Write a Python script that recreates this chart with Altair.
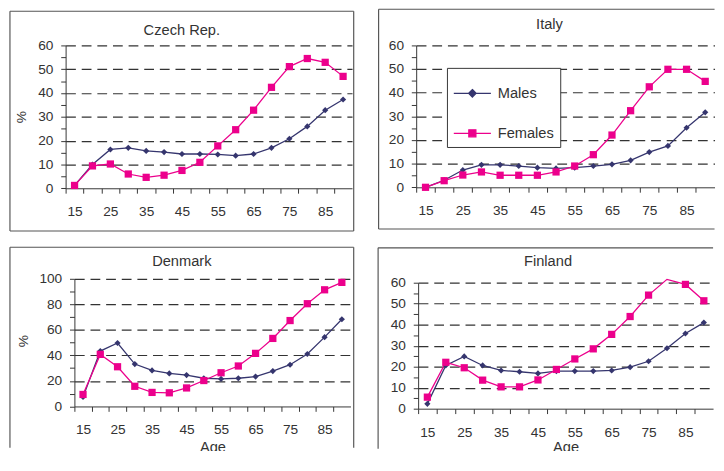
import altair as alt
import pandas as pd

AGES = [15, 20, 25, 30, 35, 40, 45, 50, 55, 60, 65, 70, 75, 80, 85, 90]
X_LABELS = [15, 25, 35, 45, 55, 65, 75, 85]
SERIES = ["Males", "Females"]

CZ_M = [1.2, 10.0, 16.3, 17.0, 15.7, 15.2, 14.4, 14.4, 14.2, 13.7, 14.4, 17.0, 20.8, 26.0, 32.8, 37.3]
CZ_F = [1.2, 9.4, 10.2, 6.0, 4.6, 5.5, 7.5, 10.9, 17.8, 24.6, 32.8, 42.4, 51.1, 54.5, 52.9, 47.0]
IT_M = [0.0, 3.0, 7.3, 9.5, 9.5, 9.0, 8.3, 8.0, 8.3, 9.0, 9.7, 11.4, 14.9, 17.5, 25.2, 31.7]
IT_F = [0.0, 2.8, 5.2, 6.5, 5.1, 5.1, 5.1, 6.5, 9.0, 13.8, 22.1, 32.4, 42.5, 49.9, 49.9, 44.8]
DK_M = [7.4, 43.4, 49.7, 33.2, 28.2, 25.9, 24.6, 22.1, 21.6, 22.1, 23.4, 27.7, 32.7, 41.1, 54.3, 68.3]
DK_F = [9.4, 40.8, 31.1, 15.8, 11.0, 10.7, 14.5, 20.3, 26.4, 31.7, 41.6, 53.3, 67.3, 80.5, 91.4, 97.2]
FI_M = [2.3, 20.6, 24.9, 20.6, 18.2, 17.6, 16.8, 17.9, 17.9, 17.9, 18.2, 19.8, 22.6, 28.8, 35.8, 41.0]
FI_F = [5.5, 22.1, 19.5, 13.6, 10.4, 10.4, 13.7, 18.7, 23.7, 28.5, 35.4, 43.9, 54.1, 61.6, 59.2, 51.4]

Y_LABELS_60 = [0, 10, 20, 30, 40, 50, 60]
Y_LABELS_100 = [0, 20, 40, 60, 80, 100]

MALE = "#35356e"
FEMALE = "#ec008c"
INK = "#333333"
FRAME = "#555555"
FONT = "Liberation Sans"

PATH_M = "M-1,0H1M0,-0.2L0.2,0L0,0.2L-0.2,0Z"
PATH_F = "M-1,0H1M-0.19,-0.19H0.19V0.19H-0.19Z"


def long_df(m, f):
    rows = []
    for a, v in zip(AGES, m):
        rows.append({"age": a, "value": v, "series": "Males"})
    for a, v in zip(AGES, f):
        rows.append({"age": a, "value": v, "series": "Females"})
    return pd.DataFrame(rows)


ONE = pd.DataFrame({"k": [0]})


def rule(x1, y1, x2, y2):
    return alt.Chart(ONE).mark_rule(color=FRAME, strokeWidth=1.2).encode(
        x=alt.value(x1), x2=alt.value(x2), y=alt.value(y1), y2=alt.value(y2)
    )


def panel(name, males, females, ylabels, minor, W, H, frame, title_xy,
          ytitle_xy=None, xtitle_y=None, legend=None, shift=0):
    df = long_df(males, females)
    ymax = ylabels[-1]
    step = ylabels[1] - ylabels[0]
    # category boundaries for tick marks
    bounds = [a - 2.5 for a in AGES]
    lab_pos = ",".join(str(v - 2.5) for v in X_LABELS)
    label_expr = ("indexof([" + lab_pos + "], datum.value) >= 0 ? "
                  "format(datum.value + 2.5, 'd') : ''")
    xkw = dict(values=bounds, labelExpr=label_expr, labelOffset=W / 32.0,
               labelOverlap=False, labelFlush=False, grid=False,
               tickSize=5, labelPadding=12, domainColor=INK, tickColor=INK)
    if xtitle_y is not None:
        xkw.update(title="Age", titleY=xtitle_y, titleX=W / 2.0 - shift, titleBaseline="middle",
                   titleFontSize=15, titleFontWeight="normal", titleColor=INK,
                   titleFont=FONT)
    else:
        xkw.update(title=None)
    xscale = alt.Scale(domain=[12.5, 92.5], nice=False, zero=False)
    if shift:
        xscale = alt.Scale(domain=[12.5, 92.5], nice=False, zero=False,
                           range=[-shift, W - shift])
    x = alt.X("age:Q", scale=xscale, axis=alt.Axis(**xkw))
    ykw = dict(values=list(range(0, ymax + 1, minor)),
               labelExpr=f"datum.value % {step} === 0 ? datum.label : ''",
               grid=True, gridDash=[10, 6], gridColor=INK, gridWidth=1.2,
               gridOpacity={"condition": {"test": f"datum.value % {step} === 0 && datum.value > 0",
                                          "value": 1}, "value": 0},
               tickSize=5, labelPadding=8, domainColor=INK, tickColor=INK,
               labelOverlap=False)
    if shift:
        ykw.update(offset=shift)
    if ytitle_xy is not None:
        ykw.update(title="%", titleX=ytitle_xy[0], titleY=ytitle_xy[1], titleAngle=270,
                   titleAlign="center", titleBaseline="middle", titleFontSize=14,
                   titleFontWeight="normal", titleColor=INK, titleFont=FONT)
    else:
        ykw.update(title=None)
    y = alt.Y("value:Q", scale=alt.Scale(domain=[0, ymax], nice=False), axis=alt.Axis(**ykw))
    color = alt.Color("series:N", scale=alt.Scale(domain=SERIES, range=[MALE, FEMALE]),
                      legend=legend)

    lines = alt.Chart(df).mark_line(strokeWidth=1.3).encode(x=x, y=y, color=color)
    pm = alt.Chart(df).transform_filter(
        f"datum.series === 'Males' && datum.value <= {ymax}"
    ).mark_point(shape="diamond", filled=True, size=40, opacity=1, color=MALE).encode(x=x, y=y)
    pf = alt.Chart(df).transform_filter(
        f"datum.series === 'Females' && datum.value <= {ymax}"
    ).mark_point(shape="square", filled=True, size=55, opacity=1, color=FEMALE).encode(x=x, y=y)
    ttl = alt.Chart(pd.DataFrame({"t": [name]})).mark_text(
        font=FONT, fontSize=15, color=INK, align="center", baseline="middle"
    ).encode(x=alt.value(title_xy[0] - shift), y=alt.value(title_xy[1]), text="t:N")

    L, T, R, B, edges = frame
    L -= shift
    R -= shift
    layers = []
    if "t" in edges:
        layers.append(rule(L, T, R, T))
    if "l" in edges:
        layers.append(rule(L, T, L, B))
    if "r" in edges:
        layers.append(rule(R, T, R, B))
    if "b" in edges:
        layers.append(rule(L, B, R, B))
    layers += [lines, pm, pf, ttl]
    return alt.layer(*layers).properties(width=W, height=H)


sym_expr = f"datum.value === 'Males' ? '{PATH_M}' : '{PATH_F}'"
col_expr = f"datum.value === 'Males' ? '{MALE}' : '{FEMALE}'"
italy_legend = alt.Legend(
    orient="none", legendX=31.5, legendY=23, title=None, direction="vertical",
    strokeColor=INK, fillColor="white", padding=6, symbolSize=1444,
    symbolType=alt.ExprRef(sym_expr), symbolStrokeWidth=1.3,
    symbolFillColor=alt.ExprRef(col_expr), symbolStrokeColor=alt.ExprRef(col_expr),
    labelFontSize=15, labelFont=FONT,
    labelColor=INK, labelOffset=6, rowPadding=13,
)

W_IT = 305.5
W_FI = 302
cz = panel("Czech Rep.", CZ_M, CZ_F, Y_LABELS_60, 5, 293.3, 146.3,
           (-57, -35, 295, 190, "tlrb"), (119, -16), ytitle_xy=(-45.3, 73), shift=9)
it = panel("Italy", IT_M, IT_F, Y_LABELS_60, 5, W_IT, 145.3,
           (-38.5, -37, W_IT, 188, "tlb"), (136.5, -22), legend=italy_legend)
dk = panel("Denmark", DK_M, DK_F, Y_LABELS_100, 10, 282.7, 130.7,
           (-66, -32.3, 286, 173, "tlr"), (110, -18.3), ytitle_xy=(-52.3, 63.4), xtitle_y=41)
fi = panel("Finland", FI_M, FI_F, Y_LABELS_60, 5, W_FI, 129,
           (-41, -35.7, W_FI, 170, "tl"), (133, -21.7), xtitle_y=39.3)

chart = alt.concat(
    cz, it, dk, fi, columns=2, align="none", spacing={"row": 15, "column": 16}
).resolve_scale(color="independent").resolve_legend(color="independent").properties(
    padding={"left": 1, "top": -5, "right": 0, "bottom": -10}
).configure_view(stroke=None).configure_axis(
    labelFont=FONT, labelFontSize=14, labelColor=INK, titleFont=FONT
)

chart.save("out.html", embed_options={"renderer": "svg", "actions": False})
